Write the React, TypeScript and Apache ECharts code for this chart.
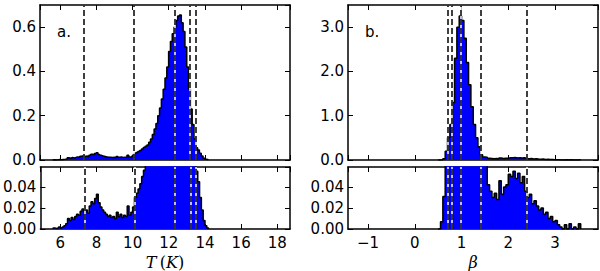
import React, { useEffect, useRef } from "react";
import * as echarts from "echarts";

// Histogram of T (K): bins of 0.1 K starting at 5.6 K
const tBinStart = 5.6;
const tBinWidth = 0.1;
const tValues = [
  0.001, 0.0005, 0.001, 0.002, 0.001, 0.002, 0.003, 0.005, 0.010, 0.008,
  0.011, 0.009, 0.012, 0.014, 0.013, 0.017, 0.019, 0.016, 0.018, 0.015,
  0.022, 0.026, 0.024, 0.029, 0.033, 0.025, 0.021, 0.018, 0.016, 0.014,
  0.012, 0.013, 0.011, 0.012, 0.010, 0.016, 0.012, 0.014, 0.011, 0.013,
  0.012, 0.022, 0.013, 0.016, 0.021, 0.030, 0.034, 0.038, 0.043, 0.050,
  0.056, 0.062, 0.068, 0.080, 0.095, 0.115, 0.140, 0.165, 0.200, 0.235,
  0.275, 0.320, 0.370, 0.420, 0.490, 0.535, 0.570, 0.600, 0.630, 0.650,
  0.655, 0.620, 0.580, 0.510, 0.420, 0.320, 0.230, 0.160, 0.095, 0.055,
  0.045, 0.030, 0.018, 0.008, 0.003, 0.001,
];

// Histogram of beta: bins of 0.05 starting at 0.5
const bBinStart = 0.5;
const bBinWidth = 0.05;
const bValues = [
  0.000, 0.007, 0.031, 0.20, 0.50, 0.80, 1.30, 2.30, 3.00, 3.25,
  3.15, 2.75, 2.20, 1.70, 1.20, 0.80, 0.50, 0.30, 0.12, 0.070,
  0.062, 0.042, 0.036, 0.030, 0.034, 0.028, 0.046, 0.033, 0.040, 0.042,
  0.052, 0.050, 0.055, 0.048, 0.053, 0.044, 0.050, 0.036, 0.030, 0.033,
  0.024, 0.027, 0.022, 0.018, 0.020, 0.014, 0.016, 0.010, 0.012, 0.007,
  0.008, 0.004, 0.002, 0.000, 0.004, 0.000, 0.005, 0.000, 0.002, 0.000,
  0.005,
];

const tMarkers = [7.34, 10.09, 12.33, 13.19, 13.47];
const bMarkers = [0.71, 0.8, 0.99, 1.41, 2.39];

const tRange = [4.9, 18.7];
const bRange = [-1.43, 3.92];
const topTRange = [0, 0.7];
const topBRange = [0, 3.5];
const zoomRange = [0, 0.059];

const panelLabels = ["a.", "b."];

function stepData(start: number, width: number, values: number[]) {
  const pts: number[][] = [[start, 0]];
  values.forEach((v, i) => pts.push([start + i * width, v]));
  pts.push([start + values.length * width, 0]);
  return pts;
}

const FONT = "DejaVu Sans";

export default function App() {
  const ref = useRef<HTMLDivElement>(null);

  useEffect(() => {
    if (!ref.current) return;
    const chart = echarts.init(ref.current, null, { renderer: "svg" });

    const grids = [
      { left: 40, top: 5, width: 250, height: 155 },
      { left: 40, top: 167, width: 250, height: 62 },
      { left: 348, top: 5, width: 250, height: 155 },
      { left: 348, top: 167, width: 250, height: 62 },
    ];

    const axisLine = { show: true, onZero: false, lineStyle: { color: "#000", width: 1.5 } };
    const axisTick = { show: true, inside: true, length: 5, lineStyle: { color: "#000", width: 1 } };

    const xAxis: any[] = [];
    const yAxis: any[] = [];
    const series: any[] = [];

    grids.forEach((_, g) => {
      const isT = g < 2;
      const isBottom = g % 2 === 1;
      const range = isT ? tRange : bRange;
      const xBase = {
        type: "value",
        gridIndex: g,
        min: range[0],
        max: range[1],
        splitNumber: isT ? 7 : 5,
        axisLine,
        axisTick,
        splitLine: { show: false },
      };
      xAxis.push({
        ...xBase,
        position: "bottom",
        axisLabel: {
          show: isBottom,
          showMinLabel: false,
          showMaxLabel: false,
          fontSize: 15,
          fontFamily: FONT,
          color: "#000",
          margin: 6,
          formatter: (v: number) => (v < 0 ? "\u2212" + Math.abs(v) : String(v)),
        },
      });
      xAxis.push({ ...xBase, position: "top", axisLabel: { show: false } });

      const yr = isBottom ? zoomRange : isT ? topTRange : topBRange;
      const interval = isBottom ? 0.02 : isT ? 0.2 : 1;
      const digits = isBottom ? 2 : 1;
      const yBase = {
        type: "value",
        gridIndex: g,
        min: yr[0],
        max: yr[1],
        interval,
        axisLine,
        axisTick,
        splitLine: { show: false },
      };
      yAxis.push({
        ...yBase,
        position: "left",
        axisLabel: {
          show: true,
          showMaxLabel: false,
          fontSize: 15,
          fontFamily: FONT,
          color: "#000",
          margin: 4,
          formatter: (v: number) => v.toFixed(digits),
        },
      });
      yAxis.push({ ...yBase, position: "right", axisLabel: { show: false } });

      const data = isT
        ? stepData(tBinStart, tBinWidth, tValues)
        : stepData(bBinStart, bBinWidth, bValues);
      const markers = isT ? tMarkers : bMarkers;

      series.push({
        type: "line",
        xAxisIndex: 2 * g,
        yAxisIndex: 2 * g,
        data,
        step: "end",
        symbol: "none",
        showSymbol: false,
        clip: true,
        lineStyle: { color: "#000", width: 1.5 },
        areaStyle: { color: "#0000ff", opacity: 1 },
        silent: true,
      });
      series.push({
        type: "line",
        xAxisIndex: 2 * g,
        yAxisIndex: 2 * g,
        data,
        symbol: "none",
        showSymbol: false,
        lineStyle: { opacity: 0 },
        silent: true,
        markLine: {
          silent: true,
          symbol: ["none", "none"],
          label: { show: false },
          lineStyle: { color: "#fff", width: 1.5, type: "solid" },
          data: markers.map((m) => ({ xAxis: m })),
        },
      });
      series.push({
        type: "line",
        xAxisIndex: 2 * g,
        yAxisIndex: 2 * g,
        data,
        symbol: "none",
        showSymbol: false,
        lineStyle: { opacity: 0 },
        silent: true,
        markLine: {
          silent: true,
          symbol: ["none", "none"],
          label: { show: false },
          lineStyle: { color: "#000", width: 1.5, type: [6, 3] },
          data: markers.map((m) => ({ xAxis: m })),
        },
      });
    });

    chart.setOption({
      animation: false,
      backgroundColor: "#fff",
      grid: grids,
      xAxis,
      yAxis,
      series,
      graphic: [
        {
          type: "text",
          left: 57,
          top: 24,
          style: { text: panelLabels[0], fontSize: 15, fontFamily: FONT, fill: "#000" },
        },
        {
          type: "text",
          left: 365,
          top: 24,
          style: { text: panelLabels[1], fontSize: 15, fontFamily: FONT, fill: "#000" },
        },
        {
          type: "text",
          x: 165,
          y: 262,
          style: {
            text: "{i|T} {r|(}{i|K}{r|)}",
            align: "center",
            verticalAlign: "middle",
            rich: {
              i: { fontFamily: "DejaVu Serif", fontStyle: "italic", fontSize: 16, fill: "#000" },
              r: { fontFamily: "DejaVu Serif", fontSize: 16, fill: "#000" },
            },
          },
        },
        {
          type: "text",
          x: 473,
          y: 262,
          style: {
            text: "\u03b2",
            align: "center",
            verticalAlign: "middle",
            fontFamily: "DejaVu Serif",
            fontStyle: "italic",
            fontSize: 16,
            fill: "#000",
          },
        },
      ],
    });

    return () => chart.dispose();
  }, []);

  return (
    <div
      ref={ref}
      style={{ position: "fixed", left: 0, top: 0, width: 600, height: 271, background: "#fff" }}
    />
  );
}
